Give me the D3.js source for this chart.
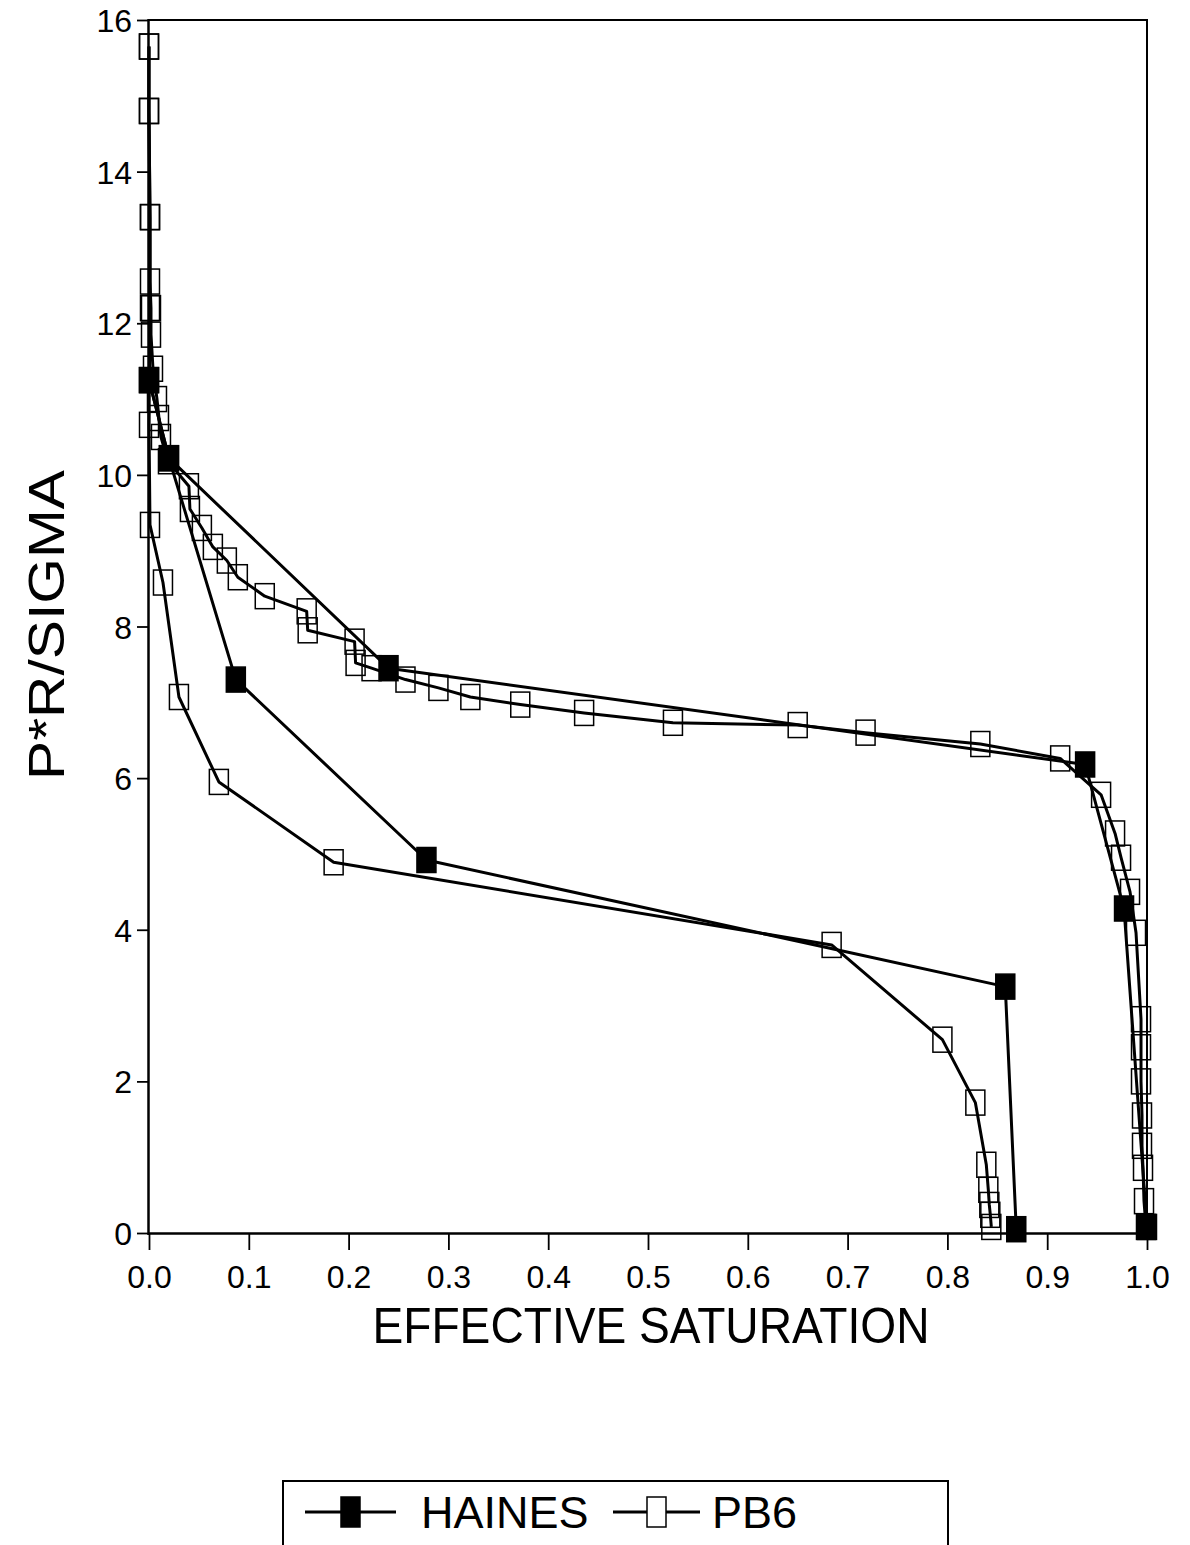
<!DOCTYPE html>
<html>
<head>
<meta charset="utf-8">
<script src="https://cdn.jsdelivr.net/npm/d3@7"></script>
<style>
  html, body { margin: 0; padding: 0; background: #fff; }
  svg { display: block; }
  text { font-family: "Liberation Sans", Arial, Helvetica, sans-serif; fill: #000; }
</style>
</head>
<body>
<svg id="chart" width="1190" height="1545"></svg>
<script>
// ---------- data ----------
const xTicks = [0.0, 0.1, 0.2, 0.3, 0.4, 0.5, 0.6, 0.7, 0.8, 0.9, 1.0];
const yTicks = [0, 2, 4, 6, 8, 10, 12, 14, 16];

const seriesNames = ["HAINES", "PB6"];

// HAINES, upper branch
const hainesA_S = [0.0, 0.02, 0.24, 0.938, 0.977, 1.0];
const hainesA_P = [11.25, 10.22, 7.45, 6.18, 4.28, 0.08];

// HAINES, lower branch
const hainesB_S = [0.0, 0.02, 0.087, 0.278, 0.858, 0.869];
const hainesB_P = [11.25, 10.22, 7.3, 4.92, 3.25, 0.05];

// PB6, upper branch
const pb6A_S = [0.0, 0.0, 0.001, 0.001, 0.002, 0.002, 0.004, 0.008, 0.01, 0.012, 0.019,
  0.04, 0.041, 0.053, 0.064, 0.078, 0.089, 0.116, 0.158, 0.159, 0.206, 0.207, 0.223,
  0.257, 0.29, 0.322, 0.372, 0.436, 0.525, 0.65, 0.718, 0.833, 0.913, 0.954, 0.968,
  0.974, 0.983, 0.989, 0.994, 0.994, 0.994, 0.995, 0.995, 0.996, 0.997, 0.999];
const pb6A_P = [15.65, 14.8, 13.4, 12.55, 12.2, 11.85, 11.4, 11.0, 10.75, 10.5, 10.18,
  9.85, 9.55, 9.3, 9.05, 8.87, 8.65, 8.4, 8.2, 7.95, 7.8, 7.52, 7.45,
  7.3, 7.19, 7.07, 6.97, 6.86, 6.73, 6.7, 6.6, 6.45, 6.26, 5.78, 5.27,
  4.95, 4.5, 3.96, 2.82, 2.45, 2.0, 1.55, 1.15, 0.86, 0.42, 0.08];

// PB6, lower branch
const pb6B_S = [0.0, 0.0, 0.001, 0.001, 0.0, 0.001, 0.014, 0.03, 0.07, 0.185, 0.684,
  0.795, 0.828, 0.839, 0.841, 0.842, 0.843, 0.844];
const pb6B_P = [15.65, 14.8, 13.4, 12.2, 10.66, 9.34, 8.58, 7.07, 5.95, 4.89, 3.8,
  2.55, 1.72, 0.9, 0.57, 0.37, 0.24, 0.08];

// ---------- layout ----------
const svg = d3.select("#chart");
const pL = 149, pR = 1147, pT = 20, pB = 1233;

const x = d3.scaleLinear().domain([0, 1]).range([pL, pR]);
const y = d3.scaleLinear().domain([0, 16]).range([pB, pT]);

// frame (top and right sides)
svg.append("path")
  .attr("d", `M${pL},${y(16)}H${pR}V${pB}`)
  .attr("fill", "none").attr("stroke", "#000").attr("stroke-width", 2);

// axes
const xAxis = d3.axisBottom(x).tickValues(xTicks).tickFormat(d3.format(".1f"))
  .tickSize(17).tickPadding(15);
const yAxis = d3.axisLeft(y).tickValues(yTicks).tickFormat(d3.format("d"))
  .tickSize(12).tickPadding(5);

const gx = svg.append("g").attr("transform", `translate(0,${pB})`).call(xAxis);
const gy = svg.append("g").attr("transform", `translate(${pL},0)`).call(yAxis);

[gx, gy].forEach(g => {
  g.select(".domain").attr("stroke", "#000").attr("stroke-width", 2.5);
  g.selectAll(".tick line").attr("stroke", "#000").attr("stroke-width", 1.8);
  g.selectAll(".tick text")
    .attr("font-family", "'Liberation Sans', Arial, sans-serif")
    .attr("font-size", 32).attr("fill", "#000");
});
gx.select(".domain").attr("d", `M${pL},0.5H${pR}`);
gy.select(".domain").attr("d", `M-0.5,${y(16) - 1}V${pB + 2}`);
gx.selectAll(".tick text").attr("dy", "0.72em");
gy.selectAll(".tick text").attr("dy", "0.36em");

// axis titles
svg.append("text")
  .attr("x", 651).attr("y", 1343)
  .attr("text-anchor", "middle")
  .attr("font-size", 50)
  .attr("textLength", 557).attr("lengthAdjust", "spacingAndGlyphs")
  .text("EFFECTIVE SATURATION");

svg.append("text")
  .attr("transform", "translate(64,625) rotate(-90)")
  .attr("text-anchor", "middle")
  .attr("font-size", 50)
  .attr("textLength", 310).attr("lengthAdjust", "spacingAndGlyphs")
  .text("P*R/SIGMA");

// ---------- series ----------
const zip = (s, p) => s.map((v, i) => ({ s: v, p: p[i] }));
const curves = [
  { data: zip(pb6B_S, pb6B_P), filled: false },
  { data: zip(pb6A_S, pb6A_P), filled: false },
  { data: zip(hainesB_S, hainesB_P), filled: true },
  { data: zip(hainesA_S, hainesA_P), filled: true }
];

const line = d3.line().x(d => x(d.s)).y(d => y(d.p));
const mw = 19, mh = 25;

curves.forEach(c => {
  svg.append("path").datum(c.data)
    .attr("d", line)
    .attr("fill", "none").attr("stroke", "#000")
    .attr("stroke-width", 3).attr("stroke-linejoin", "round");
});
curves.forEach(c => {
  svg.append("g").selectAll("rect").data(c.data).join("rect")
    .attr("x", d => x(d.s) - mw / 2).attr("y", d => y(d.p) - mh / 2)
    .attr("width", mw).attr("height", mh)
    .attr("fill", c.filled ? "#000" : "none")
    .attr("stroke", "#000").attr("stroke-width", 1.5);
});

// ---------- legend ----------
const lg = svg.append("g");
lg.append("path")
  .attr("d", "M283,1545V1481H948V1545")
  .attr("fill", "none").attr("stroke", "#000").attr("stroke-width", 2);

const legendItems = [
  { name: seriesNames[0], filled: true, x0: 305, x1: 396, tx: 421 },
  { name: seriesNames[1], filled: false, x0: 613, x1: 700, tx: 712 }
];
const ly = 1512;
legendItems.forEach(it => {
  lg.append("line").attr("x1", it.x0).attr("x2", it.x1).attr("y1", ly).attr("y2", ly)
    .attr("stroke", "#000").attr("stroke-width", 3);
  const cx = (it.x0 + it.x1) / 2;
  lg.append("rect").attr("x", cx - 9.5).attr("y", ly - 15).attr("width", 19).attr("height", 30)
    .attr("fill", it.filled ? "#000" : "#fff").attr("stroke", "#000").attr("stroke-width", 1.5);
  lg.append("text").attr("x", it.tx).attr("y", ly + 16)
    .attr("font-size", 45).text(it.name);
});
</script>
</body>
</html>
